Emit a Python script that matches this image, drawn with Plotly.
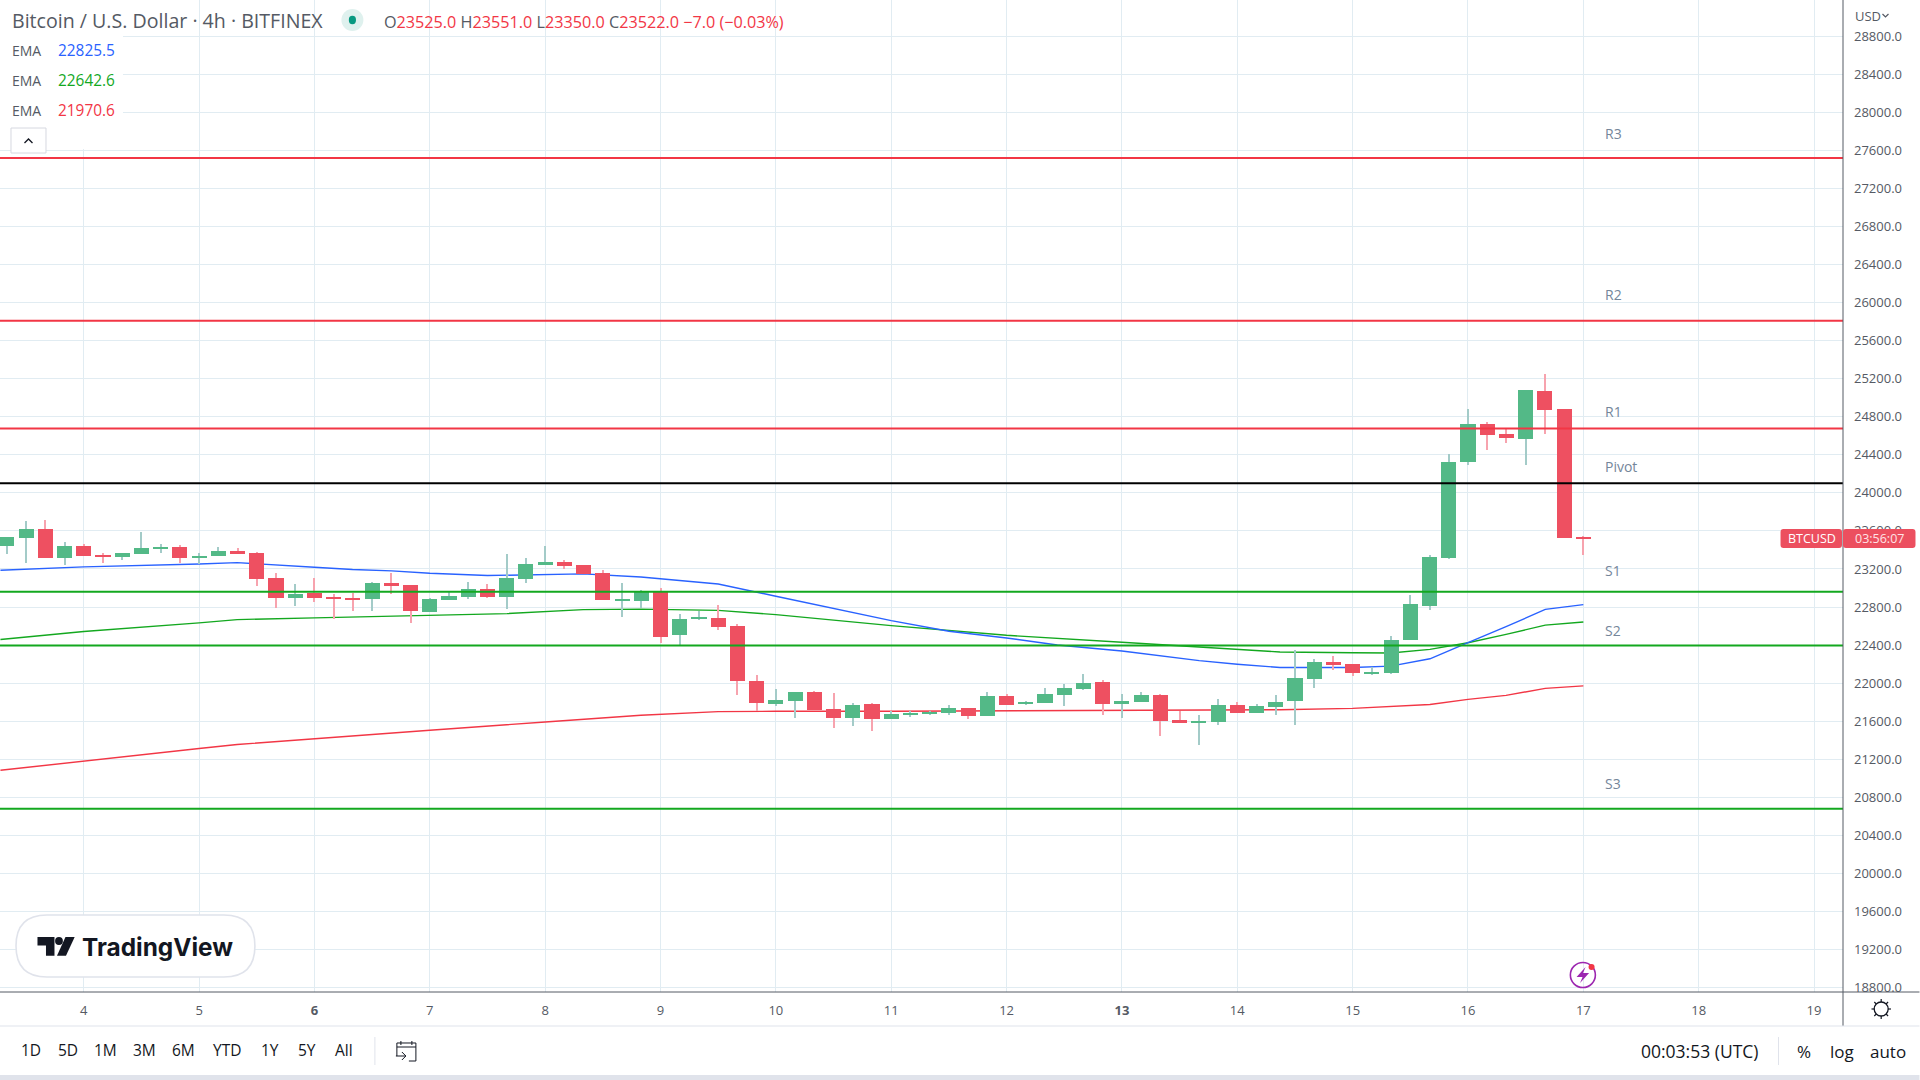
import plotly.graph_objects as go

# ---------- data ----------
first_day = 10 / 3
candle_step = 1 / 6
opens = [23439,23523,23618,23313,23439,23344,23323,23355,23407,23428,23313,23334,23386,23365,23103,22892,22945,22903,22892,22882,23050,23029,22745,22871,22903,22987,22903,23092,23239,23271,23239,23155,22871,22867,
         22962,22510,22678,22688,22604,22026,21784,21816,21910,21732,21637,21784,21627,21669,21679,21690,21742,21658,21868,21784,21795,21879,21942,22016,21784,21805,21879,21616,21585,21595,21774,21690,21753,
         21808,22039,22218,22197,22102,22102,22449,22807,23311,24320,24720,24615,24562,25067,24877,23525]
highs = [23533,23702,23712,23481,23460,23365,23365,23586,23460,23449,23365,23428,23418,23376,23155,23039,23103,22934,22945,23060,23155,23029,22896,22955,23060,23039,23355,23313,23439,23292,23239,23187,23050,22983,
         23004,22730,22762,22825,22625,22089,21942,21910,21921,21900,21795,21795,21711,21711,21711,21774,21742,21910,21889,21816,21952,21994,22100,22037,21889,21910,21889,21711,21669,21837,21805,21784,21879,
         22344,22249,22281,22197,22165,22491,22922,23343,24404,24877,24741,24678,25077,25245,24877,23551]
lows = [23355,23260,23313,23239,23334,23260,23292,23355,23365,23260,23250,23334,23355,23018,22787,22808,22850,22672,22756,22756,22934,22630,22745,22871,22882,22892,22777,23050,23239,23197,23145,22871,22693,22793,
        22425,22404,22667,22562,21879,21711,21763,21637,21721,21532,21553,21500,21627,21648,21669,21669,21627,21658,21774,21774,21795,21763,21931,21669,21637,21805,21448,21585,21353,21564,21690,21690,21669,
        21556,21945,22134,22071,22081,22092,22449,22764,23301,24289,24446,24520,24289,24615,23521,23350]
closes = [23533,23618,23313,23439,23334,23323,23365,23418,23428,23313,23334,23386,23355,23092,22892,22934,22892,22882,22882,23050,23018,22756,22882,22913,22987,22903,23103,23250,23271,23229,23145,22871,22882,22962,
          22489,22678,22688,22594,22026,21795,21826,21910,21721,21637,21774,21627,21679,21690,21700,21742,21658,21868,21774,21805,21889,21952,22005,21784,21816,21879,21606,21585,21606,21774,21690,21763,21805,
          22050,22218,22186,22102,22113,22449,22828,23322,24320,24720,24604,24573,25077,24867,23521,23522]

ema_blue_t = [3.278,4,5,5.33,6,6.33,6.67,7,7.5,8,8.33,8.83,9.5,10,11,11.5,12,12.44,13,13.67,14,14.37,15,15.33,15.67,16,16.33,16.67,17]
ema_blue = [23187,23222,23253,23267,23218,23194,23180,23155,23131,23141,23148,23115,23042,22913,22657,22545,22475,22401,22338,22236,22198,22165,22165,22179,22256,22425,22593,22775,22825.5]
ema_green_t = [3.278,4,5,5.33,6,6.83,7.67,8.33,8.83,9.5,10,11,12,13,14,14.37,15,15.33,15.67,16,16.33,16.67,17]
ema_green = [22458,22542,22633,22668,22686,22707,22731,22773,22778,22765,22720,22604,22503,22429,22359,22327,22320,22316,22355,22425,22512,22610,22642.6]
ema_red_t = [3.278,4,5,5.33,6,7,8,8.83,9.5,10,11,12,13,14,14.37,15,15.67,16,16.33,16.67,17]
ema_red = [21084,21182,21312,21354,21417,21505,21592,21662,21700,21704,21704,21707,21714,21714,21720,21734,21776,21829,21871,21945,21970.6]

level_names = ["R3","R2","R1","Pivot","S1","S2","S3"]
level_values = [27520,25809,24678,24100,22960,22395,20680]
level_colors = ["#f23645","#f23645","#f23645","#000000","#13a81f","#13a81f","#13a81f"]
label_rows = [134,294,411,467,570,630,783]

day_ticks = list(range(4,20))
day_labels = [f"<b>{d}</b>" if d in (6,13) else str(d) for d in day_ticks]
price_ticks = list(range(18800,29200,400))
price_labels = [f"{p}.0" for p in price_ticks]
range_buttons = ["1D","5D","1M","3M","6M","YTD","1Y","5Y","All"]
button_x = [31,68,106,145,184,227,270,307,344]

# ---------- layout constants ----------
W,H = 1920,1080
PW,PH = 1843.5,992
XR = [3.274,19.251]
YR = [18752.8,29181.6]
BODY_W = 0.131
WICK_W = 0.0087
UP,DOWN = "#53b987","#ee5061"
UP_W,DOWN_W = "#a3cbc8","#f7a3ae"
FONT = "Open Sans"
TXT = "#555a64"

px = lambda x: x/PW
py = lambda y: 1-y/PH
shapes,anns = [],[]
def rect(x0,y0,x1,y1,fill,line=None,lw=0):
    shapes.append(dict(type="rect",xref="paper",yref="paper",x0=px(x0),x1=px(x1),y0=py(y0),y1=py(y1),
        fillcolor=fill,line=dict(color=line or fill,width=lw),layer="above"))
def seg(x0,y0,x1,y1,c,w=1):
    shapes.append(dict(type="line",xref="paper",yref="paper",x0=px(x0),x1=px(x1),y0=py(y0),y1=py(y1),
        line=dict(color=c,width=w),layer="above"))
def circ(cx,cy,rx,ry,fill,line=None,lw=0):
    shapes.append(dict(type="circle",xref="paper",yref="paper",x0=px(cx-rx),x1=px(cx+rx),y0=py(cy-ry),y1=py(cy+ry),
        fillcolor=fill,line=dict(color=line or fill,width=lw),layer="above"))
def poly(points,fill,line=None,lw=0,close=True):
    d = "M"+" L".join(f"{px(x):.5f},{py(y):.5f}" for x,y in points)+(" Z" if close else "")
    shapes.append(dict(type="path",xref="paper",yref="paper",path=d,fillcolor=fill,
        line=dict(color=line or fill,width=lw),layer="above"))
def rrect(x0,y0,x1,y1,r,fill,line=None,lw=0):
    f = lambda x,y: f"{px(x):.5f},{py(y):.5f}"
    d = (f"M{f(x0+r,y0)} L{f(x1-r,y0)} Q{f(x1,y0)} {f(x1,y0+r)} L{f(x1,y1-r)} Q{f(x1,y1)} {f(x1-r,y1)} "
         f"L{f(x0+r,y1)} Q{f(x0,y1)} {f(x0,y1-r)} L{f(x0,y0+r)} Q{f(x0,y0)} {f(x0+r,y0)} Z")
    shapes.append(dict(type="path",xref="paper",yref="paper",path=d,fillcolor=fill,
        line=dict(color=line or fill,width=lw),layer="above"))
def text(x,y,t,size=14,color=TXT,anchor="left",bg=None,family=FONT):
    anns.append(dict(xref="paper",yref="paper",x=px(x),y=py(y),text=t,showarrow=False,xanchor=anchor,yanchor="middle",
        font=dict(family=family,size=size,color=color),bgcolor=bg,borderpad=0))

# ---------- figure ----------
fig = go.Figure()
for t,v,c in [(ema_red_t,ema_red,"#f23645"),(ema_green_t,ema_green,"#13a81f"),(ema_blue_t,ema_blue,"#2962ff")]:
    fig.add_trace(go.Scatter(x=t,y=v,mode="lines",line=dict(color=c,width=1.4),hoverinfo="skip",showlegend=False))

days = [first_day+i*candle_step for i in range(len(opens))]
is_up = [c>=o for o,c in zip(opens,closes)]
fig.add_trace(go.Bar(x=days,y=[h-l for h,l in zip(highs,lows)],base=lows,width=WICK_W,
    marker=dict(color=[UP_W if u else DOWN_W for u in is_up],line=dict(width=0)),xaxis="x2",yaxis="y2",showlegend=False,hoverinfo="skip"))
fig.add_trace(go.Bar(x=days,y=[max(abs(c-o),12) for o,c in zip(opens,closes)],base=[min(o,c) for o,c in zip(opens,closes)],width=BODY_W,
    marker=dict(color=[UP if u else DOWN for u in is_up],line=dict(width=0)),xaxis="x2",yaxis="y2",showlegend=False,hoverinfo="skip"))

for v,c in zip(level_values,level_colors):
    shapes.append(dict(type="line",xref="paper",yref="y",x0=0,x1=1,y0=v,y1=v,line=dict(color=c,width=2),layer="above"))
for n,r in zip(level_names,label_rows):
    text(1604,r,n,14,"#75869a")

# header
rect(0,0,123,128,"#ffffff"); rect(48,128,123,149,"#ffffff")
text(11,21,"Bitcoin / U.S. Dollar · 4h · BITFINEX",19.6,TXT)
circ(352.5,20,11,11,"#dff1ee"); circ(352.5,20,3.6,4.2,"#089981")
R = "#f23645"
ohlc = "".join(f"{k}<span style='color:{R}'>{v}</span> " for k,v in [("O","23525.0"),("H","23551.0"),("L","23350.0"),("C","23522.0")])
text(383,22,ohlc+f"<span style='color:{R}'>−7.0 (−0.03%)</span>",16.2,TXT)
for y,v,c in [(50,"22825.5","#2962ff"),(80.5,"22642.6","#13a81f"),(110.5,"21970.6","#f23645")]:
    text(11,y,"EMA",14,TXT); text(57.5,y,v,15.4,c)
rect(11,128,46,153,"#ffffff","#d6d8e0",1)
poly([(24.5,143),(28.5,139),(32.5,143)],"rgba(0,0,0,0)","#131722",1.3,False)

# right axis header, axis rules, bottom strip
rect(1845,0,1920,28,"#ffffff")
text(1855,16,"USD",13,TXT)
poly([(1883,14),(1886,17),(1889,14)],"rgba(0,0,0,0)",TXT,1.2,False)
rect(1845,993,1920,1026,"#ffffff")
seg(0,992,1920,992,"#555a64",1); seg(1843.5,0,1843.5,1026,"#555a64",1)
seg(0,1026,1920,1026,"#e0e3eb",1.2)
rect(0,1075,1920,1080,"#e0e3eb")
seg(375,1037,375,1065,"#e0e3eb",1); seg(1779,1037,1779,1065,"#e0e3eb",1)
for b,x in zip(range_buttons,button_x):
    text(x,1050,b,15.5,"#131722","center")
text(1700,1051,"00:03:53 (UTC)",17.5,"#131722","center")
text(1804,1051,"%",17,"#131722","center")
text(1842,1051,"log",17,"#131722","center")
text(1889,1051,"auto",17,"#131722","center")
# calendar icon
poly([(397,1056),(397,1043),(416,1043),(416,1061),(409,1061)],"rgba(0,0,0,0)","#131722",1,False)
seg(397,1047,416,1047,"#131722",1); seg(401,1041,401,1045,"#131722",1); seg(412,1041,412,1045,"#131722",1)
poly([(396,1056),(406,1056)],"rgba(0,0,0,0)","#131722",1,False)
poly([(402,1052),(406,1056),(402,1060)],"rgba(0,0,0,0)","#131722",1,False)
# gear icon
circ(1881.7,1009,7,7,"#ffffff","#131722",1.3)
for a,b,c,d in [(1881.7,999,1881.7,1002),(1881.7,1016,1881.7,1019),(1872,1009,1875,1009),(1888.5,1009,1891.5,1009),
                (1874.8,1002,1876.8,1004),(1886.6,1014,1888.6,1016),(1874.8,1016,1876.8,1014),(1886.6,1004,1888.6,1002)]:
    seg(a,b,c,d,"#131722",1.2)
# lightning badge
circ(1583.3,975,12.5,12.5,"rgba(0,0,0,0)","#9c27b0",1.6)
poly([(1586,967),(1577,977),(1583,977),(1580.5,983),(1589.5,973),(1583.5,973)],"#9c27b0")
circ(1592,967,3,3,"#f23645")
# logo pill
rrect(16,915,255,977,31,"#ffffff","#e0e3eb",1.6)
poly([(37.5,937),(54.5,937),(54.5,955.7),(46,955.7),(46,945.5),(37.5,945.5)],"#131722")
circ(59,941,3.9,3.9,"#131722")
poly([(65.5,937),(74.7,937),(66,955.7),(57,955.7)],"#131722")
text(81.5,947,"<b>TradingView</b>",24.4,"#131722",family="Inter")
# price tag
rrect(1781,529,1842.5,548,3,"#ec4f5f")
rrect(1843.5,529,1916,548,3,"#ec4f5f")
text(1812,538.5,"BTCUSD",12.5,"#ffffff","center")
text(1880,538.5,"03:56:07",12.5,"#ffe3e6","center")

ax = dict(showgrid=True,gridcolor="#e1ecf2",gridwidth=1,zeroline=False,fixedrange=True,
          tickfont=dict(family=FONT,size=13,color=TXT),ticks="",showline=False)
fig.update_layout(
    width=W,height=H,margin=dict(l=0,r=W-PW,t=0,b=H-PH,pad=0),
    paper_bgcolor="#ffffff",plot_bgcolor="#ffffff",showlegend=False,bargap=0,barmode="overlay",
    font=dict(family=FONT),
    xaxis=dict(ax,range=XR,tickmode="array",tickvals=day_ticks,ticktext=day_labels,ticklabelstandoff=9),
    yaxis=dict(ax,range=YR,side="right",tickmode="array",tickvals=price_ticks,ticktext=price_labels,ticklabelstandoff=10),
    xaxis2=dict(range=XR,overlaying="x",visible=False,fixedrange=True),
    yaxis2=dict(range=YR,overlaying="y",visible=False,fixedrange=True),
    shapes=shapes,annotations=anns)
fig.write_html("out.html",config=dict(displayModeBar=False),
    post_script="document.body.style.margin='0';document.documentElement.style.overflow='hidden';")
